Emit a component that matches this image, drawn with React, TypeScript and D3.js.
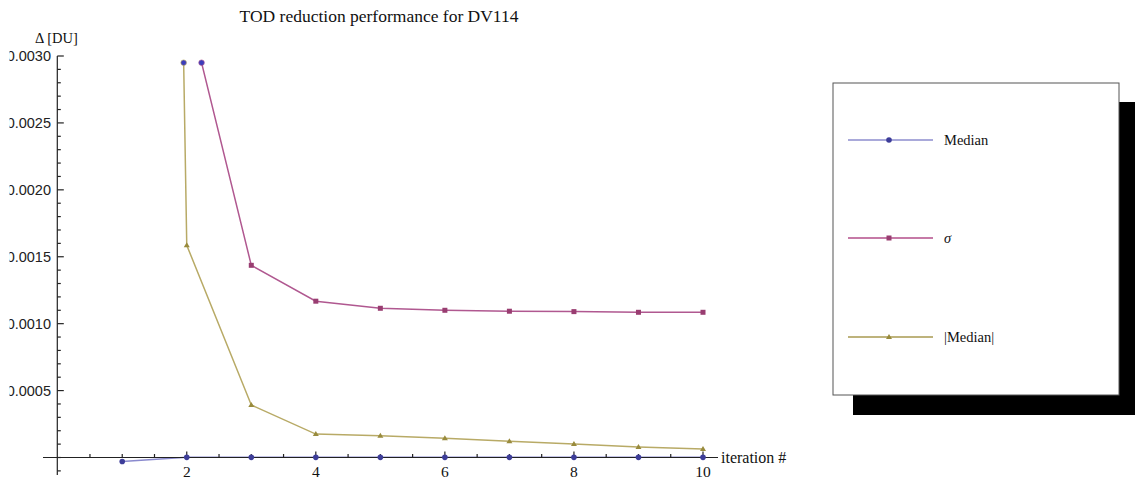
import React from "react";
import * as d3 from "d3";

const iterations = [1, 2, 3, 4, 5, 6, 7, 8, 9, 10];
const medianVals = [-0.00003, 0.000001, 0.000001, 0.000001, 0.000001, 0.000001, 0.000001, 0.000001, 0.000001, 0.000001];
const sigmaVals = [0.02, 0.0034, 0.001436, 0.001168, 0.001115, 0.0011, 0.001093, 0.00109, 0.001085, 0.001085];
const absMedianVals = [0.03, 0.001586, 0.000392, 0.000175, 0.000163, 0.000143, 0.000121, 0.0001, 0.000078, 0.000063];
const yTickLabels = ["0.0005", "0.0010", "0.0015", "0.0020", "0.0025", "0.0030"];
const xTickLabels = ["2", "4", "6", "8", "10"];
const seriesNames = ["Median", "σ", "|Median|"];

const W = 1135;
const H = 481;
const Y_CLIP = 0.00295;

const x = d3.scaleLinear().domain([0, 10]).range([57.7, 703]);
const y = d3.scaleLinear().domain([0, 0.003]).range([457.5, 56]);

const colors = {
  median: { pt: "#3d3d99", line: "#8a8ace", legend: "#a9a9da" },
  sigma: { pt: "#993d71", line: "#b05890", legend: "#c67aa7" },
  abs: { pt: "#998b3d", line: "#b8aa66", legend: "#a89a50" },
};

type Ser = { key: "median" | "sigma" | "abs"; vals: number[]; shape: string };
const series: Ser[] = [
  { key: "abs", vals: absMedianVals, shape: "tri" },
  { key: "sigma", vals: sigmaVals, shape: "sq" },
  { key: "median", vals: medianVals, shape: "circ" },
];

function marker(shape: string, cx: number, cy: number, fill: string, k: string) {
  if (shape === "circ") return <circle key={k} cx={cx} cy={cy} r={2.8} fill={fill} />;
  if (shape === "sq") return <rect key={k} x={cx - 2.5} y={cy - 2.5} width={5} height={5} fill={fill} />;
  return <path key={k} d={`M${cx - 3},${cy + 2} L${cx + 3},${cy + 2} L${cx},${cy - 3} Z`} fill={fill} />;
}

function clipCrossings(vals: number[]) {
  const pts: number[] = [];
  for (let i = 0; i < vals.length - 1; i++) {
    const a = vals[i], b = vals[i + 1];
    if ((a > Y_CLIP) !== (b > Y_CLIP)) {
      const t = (Y_CLIP - a) / (b - a);
      pts.push(iterations[i] + t * (iterations[i + 1] - iterations[i]));
    }
  }
  return pts;
}

export default function App() {
  const line = d3
    .line<number>()
    .x((_, i) => x(iterations[i]))
    .y((v) => y(v));

  const yMinor = d3.range(-1, 31).map((i) => i * 0.0001);
  const xMinor = d3.range(1, 21).map((i) => i * 0.5);
  const serif = "'Liberation Serif', 'Times New Roman', serif";
  const sans = "'Liberation Sans', Arial, sans-serif";
  const axisY = y(0);
  const axisX = x(0) - 0.4;

  const legendItems = [
    { key: "median" as const, shape: "circ", lw: 2.2, cy: 140 },
    { key: "sigma" as const, shape: "sq", lw: 1.8, cy: 238 },
    { key: "abs" as const, shape: "tri", lw: 1.4, cy: 337 },
  ];

  return (
    <svg width={W} height={H} style={{ position: "absolute", left: 0, top: 0, background: "#fff" }}>
      <defs>
        <clipPath id="plotClip">
          <rect x={40} y={y(Y_CLIP)} width={680} height={H} />
        </clipPath>
        <clipPath id="labelClip">
          <rect x={9.5} y={0} width={60} height={H} />
        </clipPath>
      </defs>
      <rect x={0} y={0} width={W} height={H} fill="#fff" />

      {/* title */}
      <text x={379} y={21.5} textAnchor="middle" fontFamily={serif} fontSize={17.5} fill="#111">
        TOD reduction performance for DV114
      </text>

      {/* y axis label */}
      <text x={35} y={43} fontFamily={serif} fontSize={14.5} fill="#111">
        Δ [DU]
      </text>

      {/* series lines */}
      <g clipPath="url(#plotClip)">
        {series.map((s) => (
          <path key={s.key} d={line(s.vals) || ""} fill="none" stroke={colors[s.key].line} strokeWidth={1.5} />
        ))}
      </g>

      {/* axes */}
      <g stroke="#222" strokeWidth={1.2}>
        <line x1={axisX} x2={axisX} y1={56} y2={475} />
        <line x1={43} x2={718} y1={axisY} y2={axisY} />
        {yMinor.map((v, i) => {
          const major = Math.round(v * 10000) % 5 === 0 && v > 0;
          return <line key={"ym" + i} x1={axisX} x2={axisX + (major ? 6.5 : 3.5)} y1={y(v)} y2={y(v)} />;
        })}
        {xMinor.map((v, i) => {
          const major = v % 2 === 0;
          return <line key={"xm" + i} x1={x(v)} x2={x(v)} y1={axisY} y2={axisY - (major ? 6 : 3.5)} />;
        })}
      </g>

      {/* y tick labels */}
      <g clipPath="url(#labelClip)">
        {yTickLabels.map((t) => (
          <text key={t} x={51} y={y(+t) + 5} textAnchor="end" fontFamily={sans} fontSize={14.5} fill="#222">
            {t}
          </text>
        ))}
      </g>

      {/* x tick labels */}
      {xTickLabels.map((t) => (
        <text key={t} x={x(+t)} y={477} textAnchor="middle" fontFamily={serif} fontSize={15.5} fill="#111">
          {t}
        </text>
      ))}
      <text x={721} y={463} fontFamily={serif} fontSize={16} fill="#111">
        iteration #
      </text>

      {/* markers */}
      <g clipPath="url(#plotClip)">
        {series.map((s) =>
          s.vals.map((v, i) => marker(s.shape, x(iterations[i]), y(v), colors[s.key].pt, s.key + i))
        )}
      </g>
      {series.map((s) =>
        clipCrossings(s.vals).map((cx, i) => (
          <circle
            key={"cc" + s.key + i}
            cx={x(cx)}
            cy={y(Y_CLIP)}
            r={2.8}
            fill="#3d3dbb"
            stroke={colors[s.key].line}
            strokeWidth={0.6}
          />
        ))
      )}

      {/* legend */}
      <rect x={853} y={102} width={286} height={313} fill="#000" />
      <rect x={833} y={83} width={286} height={312} fill="#fff" stroke="#555" strokeWidth={1} />
      {legendItems.map((it, i) => (
        <g key={it.key}>
          <line x1={848} x2={933} y1={it.cy} y2={it.cy} stroke={colors[it.key].legend} strokeWidth={it.lw} />
          {marker(it.shape, 889, it.cy, colors[it.key].pt, "lm" + i)}
          <text
            x={944}
            y={it.cy + 5}
            fontFamily={serif}
            fontSize={14.5}
            fontStyle={it.key === "sigma" ? "italic" : "normal"}
            fill="#111"
          >
            {seriesNames[i]}
          </text>
        </g>
      ))}
    </svg>
  );
}
